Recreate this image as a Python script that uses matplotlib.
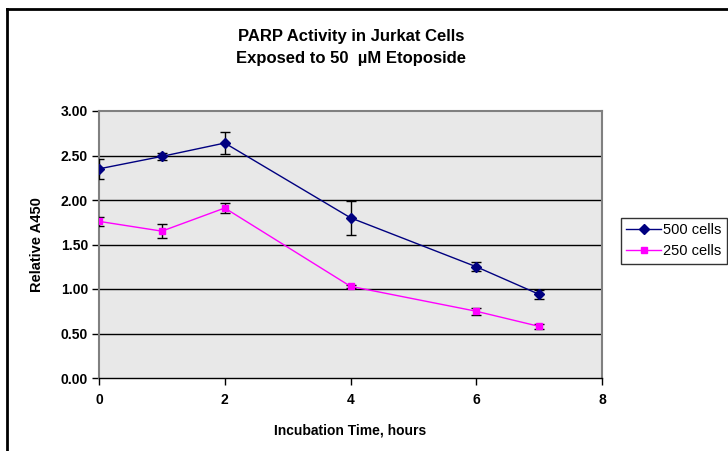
import matplotlib
matplotlib.use("Agg")
import matplotlib.pyplot as plt
from matplotlib.lines import Line2D

plt.rcParams['font.family'] = ['Liberation Sans', 'DejaVu Sans']

#data
hours = [0, 1, 2, 4, 6, 7]
cells_500 = [2.35, 2.49, 2.64, 1.80, 1.25, 0.94]
err_500 = [0.11, 0.04, 0.12, 0.19, 0.05, 0.05]
cells_250 = [1.76, 1.65, 1.91, 1.03, 0.75, 0.58]
err_250 = [0.05, 0.08, 0.06, 0.02, 0.04, 0.03]
y_ticks = [0.0, 0.5, 1.0, 1.5, 2.0, 2.5, 3.0]
x_ticks = [0, 2, 4, 6, 8]

fig = plt.figure(figsize=(7.28, 4.51), dpi=100)
ax = fig.add_axes([99/728, 1 - 378/451, 503/728, 267/451])
ax.set_facecolor("#E8E8E8")

#gridlines
for y in y_ticks[1:-1]:
    ax.axhline(y, color="black", lw=1.0, zorder=1)

ax.errorbar(hours, cells_500, yerr=err_500, color="#000080", marker="D", markersize=5,
            lw=1.0, ecolor="black", elinewidth=1.0, capsize=3.5, capthick=1.0, zorder=3)
ax.errorbar(hours, cells_250, yerr=err_250, color="#FF00FF", marker="s", markersize=5,
            lw=1.0, ecolor="black", elinewidth=1.0, capsize=3.5, capthick=1.0, zorder=3)

ax.set_xlim(0, 8)
ax.set_ylim(0, 3)
ax.set_xticks(x_ticks)
ax.set_yticks(y_ticks)
ax.set_yticklabels([f"{v:.2f}" for v in y_ticks])

for side in ["left", "top", "right"]:
    ax.spines[side].set_color("#808080")
    ax.spines[side].set_linewidth(1.5)
ax.spines["bottom"].set_color("black")
ax.spines["bottom"].set_linewidth(1.0)
ax.tick_params(axis="both", direction="out", length=5, width=1, labelsize=10, pad=3)
ax.tick_params(axis="x", pad=6)
for lab in ax.get_xticklabels() + ax.get_yticklabels():
    lab.set_fontweight("bold")

ax.set_xlabel("Incubation Time, hours", fontsize=10, fontweight="bold", labelpad=12)
ax.set_ylabel("Relative A450", fontsize=10.5, fontweight="bold", labelpad=12)

fig.text(0.482, 1 - 36/451, "PARP Activity in Jurkat Cells", ha="center", va="center",
         fontsize=12, fontweight="bold")
fig.text(0.482, 1 - 59/451, "Exposed to 50  \u00b5M Etoposide", ha="center", va="center",
         fontsize=12, fontweight="bold")

#legend without error bars
handles = [
    Line2D([], [], color="#000080", marker="D", markersize=5, lw=1.0),
    Line2D([], [], color="#FF00FF", marker="s", markersize=5, lw=1.0),
]
leg = fig.legend(handles, ["500 cells", "250 cells"], loc="upper left",
                 bbox_to_anchor=(621/728, 1 - 218/451), frameon=True, fancybox=False,
                 fontsize=10.5, handlelength=2.4, handletextpad=0.15, borderpad=0.35,
                 labelspacing=0.5, borderaxespad=0)
leg.get_frame().set_edgecolor("black")
leg.get_frame().set_linewidth(1.0)

#chart border
fig.add_artist(Line2D([6.5/728, 6.5/728], [0, 1 - 8.5/451], color="black", lw=2, transform=fig.transFigure))
fig.add_artist(Line2D([6.5/728, 1], [1 - 8.5/451, 1 - 8.5/451], color="black", lw=2, transform=fig.transFigure))

plt.savefig("out.png", dpi=100)
